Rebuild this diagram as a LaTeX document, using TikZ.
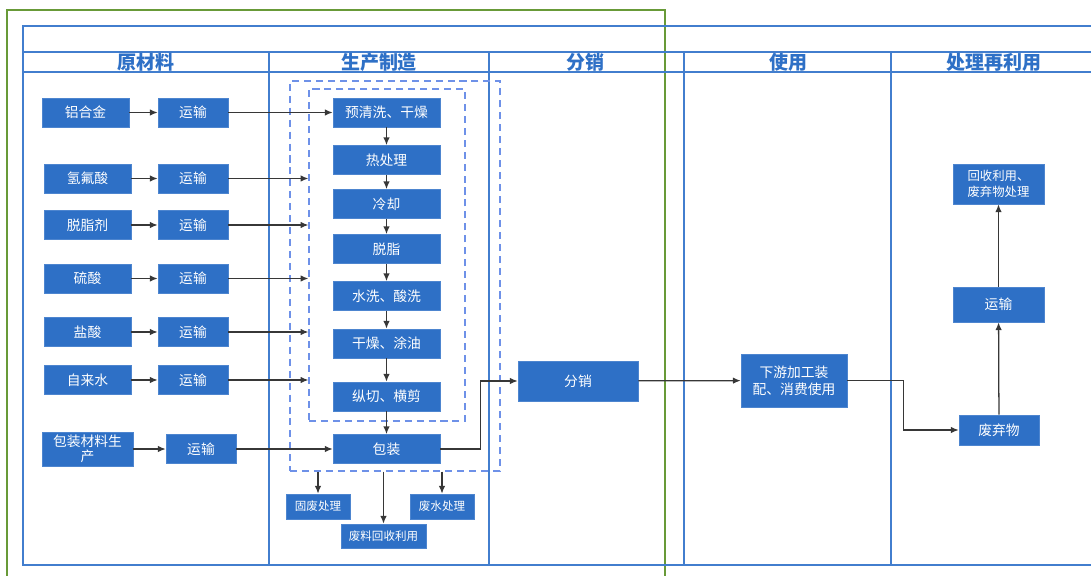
\documentclass[tikz,border=0pt]{standalone}
\usepackage{fontspec}
\setmainfont{Noto Sans CJK SC}
\usetikzlibrary{arrows.meta,positioning}
\definecolor{boxblue}{RGB}{46,112,198}
\definecolor{laneblue}{RGB}{66,126,206}
\definecolor{dashblue}{RGB}{110,145,232}
\definecolor{framegreen}{RGB}{104,154,56}
\definecolor{arrgray}{RGB}{55,55,55}
\tikzset{
bluebox/.style 2 args = {fill=boxblue, draw=boxblue!85!white, text=white,
            inner sep=0pt, align=center,
            minimum width=#1*0.025cm, minimum height=#2*0.025cm,
            font=\fontsize{9.8}{12}\selectfont},
smallbox/.style 2 args = {bluebox={#1}{#2}, font=\fontsize{8.2}{10}\selectfont},
dashbox/.style 2 args = {draw=dashblue, dash pattern=on 5pt off 3.5pt, line width=0.8pt,
            inner sep=0pt, minimum width=#1*0.025cm, minimum height=#2*0.025cm},
lane/.style = {draw=laneblue, line width=1.3pt},
head/.style = {text=boxblue, font=\fontsize{13.5}{13.5}\selectfont\bfseries},
arr/.style = {-{Latex[length=5.5pt,width=4.5pt]}, draw=arrgray, line width=0.9pt}
}

\begin{document}
\begin{tikzpicture}[x=0.025cm,y=-0.025cm]
  \useasboundingbox (0,0) rectangle (1091,576);
  \clip (0,0) rectangle (1091,576);

  % frame and lanes
  \draw[framegreen, line width=1.3pt] (7,600) -- (7,10) -- (665,10) -- (665,600);
  \draw[lane] (1120,26) -- (23,26) -- (23,565) -- (1120,565);
  \draw[lane] (23,52) -- (1120,52);
  \draw[lane] (23,72) -- (1120,72);
  \foreach \x in {269,489,684,891}{
    \draw[lane] (\x,52) -- (\x,565);
  }
  \foreach \x/\t in {146/原材料, 379/生产制造, 585/分销, 788/使用, 994/处理再利用}{
    \node[head] (h\x) at (\x,62) {\t};
  }

  % production
  \node[dashbox={210}{390}] (outer) at (395,276) {};
  \node[dashbox={156}{332}] (inner) at (387,255) {};
  \foreach \t/\y [count=\i] in {预清洗、干燥/112.5, 热处理/160, 冷却/204, 脱脂/249,
      水洗、酸洗/296, 干燥、涂油/343.5, 纵切、横剪/396.5, 包装/449}{
    \node[bluebox={107}{29}] (p\i) at (386.5,\y) {\t};
  }
  \foreach \i [evaluate=\i as \j using int(\i+1)] in {1,...,7}{
    \draw[arr] (p\i) -- (p\j);
  }

  % raw materials
  \node[bluebox={87}{29}] (alloy) at (85.5,112.5) {铝合金};
  \node[bluebox={70}{29}] (t0) at (193,112.5) {运输};
  \draw[arr] (alloy) -- (t0);
  \draw[arr] (t0) -- (p1);
  \foreach \t/\y [count=\i] in {氢氟酸/178.5, 脱脂剂/225, 硫酸/278.5, 盐酸/332, 自来水/380}{
    \node[bluebox={87}{29}] (m\i) at (87.5,\y) {\t};
    \node[bluebox={70}{29}] (t\i) at (193,\y) {运输};
    \draw[arr] (m\i) -- (t\i);
    \draw[arr] (t\i) -- (t\i -| inner.west);
  }
  \node[bluebox={91}{34}, font=\fontsize{9.8}{10.5}\selectfont] (pm) at (87.5,449) {包装材料生\\产};
  \node[bluebox={70}{29}] (t6) at (201,449) {运输};
  \draw[arr] (pm) -- (t6);
  \draw[arr] (t6) -- (p8);

  % waste from production
  \node[smallbox={64}{25}] (solid) at (318,506.5) {固废处理};
  \node[smallbox={85}{24}] (scrap) at (383.5,536) {废料回收利用};
  \node[smallbox={64}{25}] (water) at (442,506.5) {废水处理};
  \draw[arr] (solid |- outer.south) -- (solid);
  \draw[arr] (scrap |- outer.south) -- (scrap);
  \draw[arr] (water |- outer.south) -- (water);

  % distribution, use, end of life
  \node[bluebox={120}{40}] (dist) at (578,381) {分销};
  \node[bluebox={106}{53}] (use) at (794,380.5) {下游加工装\\配、消费使用};
  \node[bluebox={80}{30}] (waste) at (999,430) {废弃物};
  \node[bluebox={91}{35}] (t7) at (998.5,304.5) {运输};
  \node[smallbox={91}{40}, font=\fontsize{8.8}{11}\selectfont] (recy) at (998.5,184) {回收利用、\\废弃物处理};
  \draw[arr] (p8.east) -- ++(40,0) |- (dist.west);
  \draw[arr] (dist) -- (use);
  \draw[arr] (use.east) -- ++(56,0) |- (waste.west);
  \draw[arr] (waste) -- (t7);
  \draw[arr] (t7) -- (recy);
\end{tikzpicture}
\end{document}
